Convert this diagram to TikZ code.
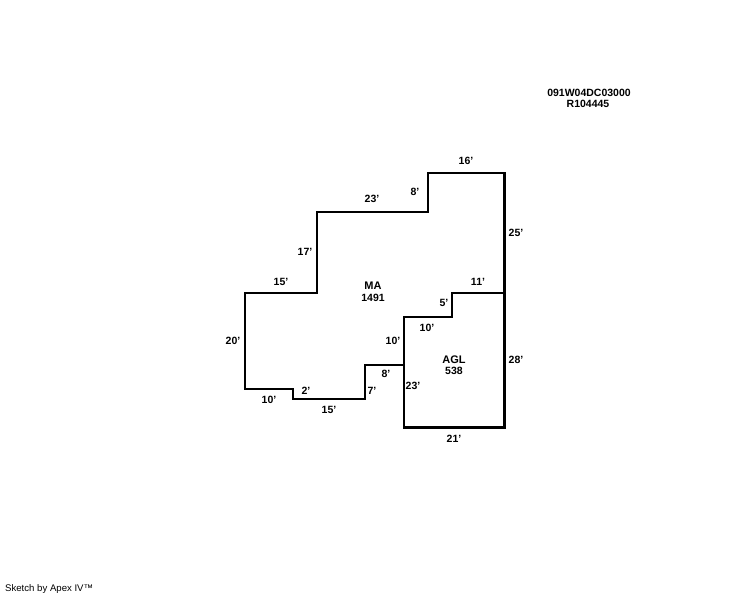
\documentclass[tikz,border=0pt]{standalone}
\usepackage{fontspec}
\setmainfont{Liberation Sans}
\tikzset{
  dim/.style={font=\fontsize{10.5}{10.5}\selectfont\bfseries, inner sep=0pt, anchor=center},
  area/.style={font=\fontsize{11}{11}\selectfont\bfseries, inner sep=0pt, anchor=center},
  wall/.style={line width=2.2pt, line join=miter, line cap=rect},
  heavy/.style={line width=3pt, line join=miter, line cap=rect},
  credit/.style={font=\fontsize{9.6}{10}\selectfont, inner sep=0pt, anchor=west},
}
\begin{document}
\begin{tikzpicture}[x=1pt,y=-1pt]
\useasboundingbox (0,0) rectangle (744,595);
\fill[white] (0,0) rectangle (744,595);
% MA outline
\draw[wall] (404,365) -- (365,365) -- (365,399) -- (293,399) -- (293,389) -- (245,389)
  -- (245,293) -- (317,293) -- (317,212) -- (428,212) -- (428,173) -- (504,173);
% AGL outline
\draw[wall] (504,293) -- (452,293) -- (452,317) -- (404,317) -- (404,427);
\draw[heavy] (504,173) -- (504,427) -- (404,427);
% labels
\node[dim] (a1) at (466,161) {16'};
\node[dim] (a2) at (415,192) {8'};
\node[dim] (a3) at (372,199) {23'};
\node[dim] (a4) at (305,252) {17'};
\node[dim] (a5) at (516,233) {25'};
\node[dim] (a6) at (281,282) {15'};
\node[dim] (a7) at (478,282) {11'};
\node[dim] (a8) at (444,303) {5'};
\node[dim] (a9) at (427,328) {10'};
\node[dim] (a10) at (233,341) {20'};
\node[dim] (a11) at (393,341) {10'};
\node[dim] (a12) at (516,360) {28'};
\node[dim] (a13) at (386,374) {8'};
\node[dim] (a14) at (413,386) {23'};
\node[dim] (a15) at (372,391) {7'};
\node[dim] (a16) at (306,391) {2'};
\node[dim] (a17) at (269,400) {10'};
\node[dim] (a18) at (329,410) {15'};
\node[dim] (a19) at (454,439) {21'};
\node[area] (ma) at (373,286) {MA};
\node[dim] (man) at (373,298) {1491};
\node[area] (agl) at (454,360) {AGL};
\node[dim] (agln) at (454,371) {538};
\node[dim] (id1) at (589,93) {091W04DC03000};
\node[dim] (id2) at (588,103.5) {R104445};
\node[credit] (cr) at (5,589) {Sketch by Apex IV™};
\end{tikzpicture}
\end{document}
